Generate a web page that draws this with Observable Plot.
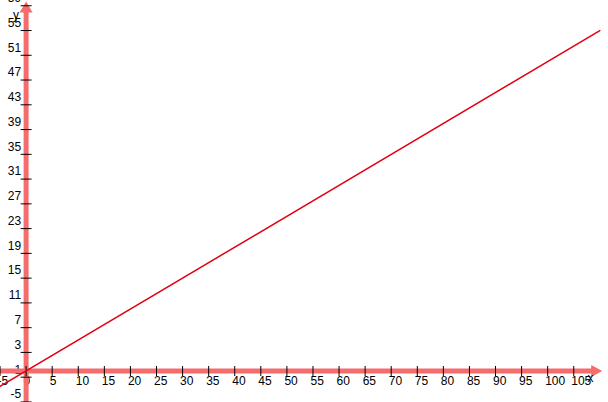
<!DOCTYPE html>
<html>
<head>
<meta charset="utf-8">
<script src="https://cdn.jsdelivr.net/npm/d3@7"></script>
<script src="https://cdn.jsdelivr.net/npm/@observablehq/plot@0.6"></script>
<style>
  html, body { margin: 0; padding: 0; background: white; }
  svg { display: block; }
</style>
</head>
<body>
<div id="chart"></div>
<script>
// View window (data units)
const xDomain = [-4.91, 111.66];
const yDomain = [-5.09, 59.85];

// Axis extents (arrow tips)
const xAxisEnd = 110.45;
const yAxisEnd = 59.7;

// Tick values and labels
const xTicks = [-5, 0, 5, 10, 15, 20, 25, 30, 35, 40, 45, 50, 55, 60, 65, 70, 75, 80, 85, 90, 95, 100, 105];
const xTickLabels = xTicks.map(String);
const yTicks = [-5, -1, 3, 7, 11, 15, 19, 23, 27, 31, 35, 39, 43, 47, 51, 55, 59];
const yTickLabels = yTicks.map(String);

// Series: straight line
const lineX = [-5, 110];
const lineY = [-2.5, 55];
const lineData = lineX.map((x, i) => ({x, y: lineY[i]}));

// Axis name labels
const axisNames = [
  {name: "x", x: 108.2, y: 0},
  {name: "y", x: 0, y: 57.5}
];

const axisColor = "#f46c6c";

const hTick = {draw(ctx) { ctx.moveTo(-5.5, 0); ctx.lineTo(5.5, 0); }};
const vTick = {draw(ctx) { ctx.moveTo(0, -5); ctx.lineTo(0, 5); }};
const rightArrow = {draw(ctx) { ctx.moveTo(0, 0); ctx.lineTo(-11, -6); ctx.lineTo(-11, 6); ctx.closePath(); }};
const upArrow = {draw(ctx) { ctx.moveTo(0, 0); ctx.lineTo(-6.5, 11); ctx.lineTo(6.5, 11); ctx.closePath(); }};

const chart = Plot.plot({
  width: 608,
  height: 402,
  margin: 0,
  x: {domain: xDomain, axis: null},
  y: {domain: yDomain, axis: null},
  style: {fontFamily: "'Liberation Sans', Arial, sans-serif", fontSize: "12px", background: "white", color: "black"},
  marks: [
    // tick labels
    Plot.text(xTicks, {x: d => d, y: 0, text: (d, i) => xTickLabels[i], textAnchor: "start", dx: -2.5, dy: 10, fill: "black"}),
    Plot.text(yTicks, {x: 0, y: d => d, text: (d, i) => yTickLabels[i], textAnchor: "end", dx: -5, dy: -7.5, fill: "black"}),
    // axes
    Plot.ruleY([0], {x1: xDomain[0] - 1, x2: xAxisEnd - 1.5, stroke: axisColor, strokeWidth: 5}),
    Plot.ruleX([0], {y1: yDomain[0] - 1, y2: yAxisEnd - 1.2, stroke: axisColor, strokeWidth: 5}),
    Plot.dot([xAxisEnd], {x: d => d, y: 0, symbol: rightArrow, fill: axisColor, stroke: "none", r: 6}),
    Plot.dot([yAxisEnd], {x: 0, y: d => d, symbol: upArrow, fill: axisColor, stroke: "none", r: 6}),
    // ticks
    Plot.dot(xTicks, {x: d => d, y: 0, symbol: vTick, stroke: "black", fill: "none", strokeWidth: 1, r: 5}),
    Plot.dot(yTicks, {x: 0, y: d => d, symbol: hTick, stroke: "black", fill: "none", strokeWidth: 1, r: 5}),
    // axis names
    Plot.text(axisNames.slice(0, 1), {x: "x", y: "y", text: "name", dy: 7, fill: "black"}),
    Plot.text(axisNames.slice(1), {x: "x", y: "y", text: "name", dx: -10, fill: "black"}),
    // series
    Plot.line(lineData, {x: "x", y: "y", stroke: "#e00010", strokeWidth: 1.5})
  ]
});
document.getElementById("chart").appendChild(chart);
</script>
</body>
</html>
